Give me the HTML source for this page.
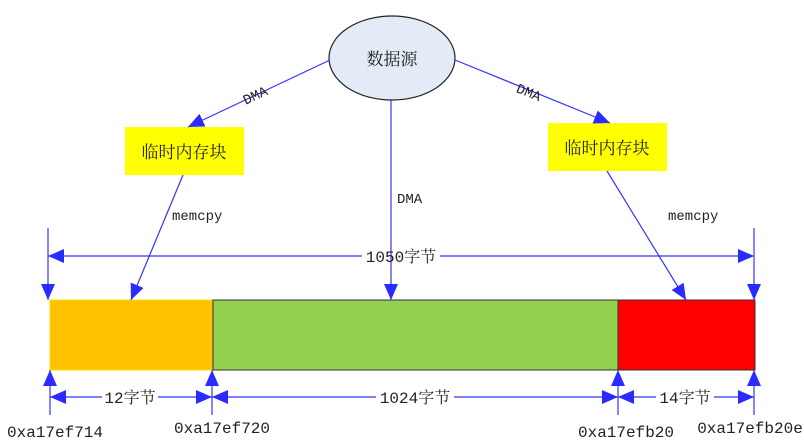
<!DOCTYPE html>
<html><head><meta charset="utf-8"><style>
html,body{margin:0;padding:0;background:#fff;}
svg{display:block;}
text{font-family:"Liberation Mono","Noto Serif CJK SC",monospace;fill:#222;}
</style></head><body>
<svg width="804" height="446" viewBox="0 0 804 446" xmlns="http://www.w3.org/2000/svg">
<defs>
<marker id="a" viewBox="0 0 16 14" refX="16" refY="7" markerWidth="16" markerHeight="14" markerUnits="userSpaceOnUse" orient="auto">
<path d="M0,0 L16,7 L0,14 Z" fill="#2b2bff"/></marker>
</defs>
<ellipse cx="392" cy="58" rx="63" ry="42" fill="#e3ebf6" stroke="#222" stroke-width="1.2"/>
<text x="392" y="65" font-size="17" text-anchor="middle" style="font-family:'Noto Serif CJK SC',serif">数据源</text>
<rect x="125" y="127" width="119" height="48" fill="#ffff00"/>
<text x="184" y="158" font-size="17" text-anchor="middle" style="font-family:'Noto Serif CJK SC',serif">临时内存块</text>
<rect x="548" y="123" width="119" height="48" fill="#ffff00"/>
<text x="607" y="154" font-size="17" text-anchor="middle" style="font-family:'Noto Serif CJK SC',serif">临时内存块</text>
<rect x="50" y="300" width="163" height="70" fill="#ffc000" stroke="#ffe000" stroke-width="1"/>
<rect x="213" y="300" width="405" height="70" fill="#92d050" stroke="#333" stroke-width="1"/>
<rect x="618" y="300" width="137" height="70" fill="#ff0000" stroke="#333" stroke-width="1"/>
<g stroke="#3333ff" stroke-width="1.2" fill="none">
<line x1="330" y1="60" x2="188" y2="127" marker-end="url(#a)"/>
<line x1="455" y1="60" x2="610" y2="123" marker-end="url(#a)"/>
<line x1="391" y1="100" x2="391" y2="300" marker-end="url(#a)"/>
<line x1="183" y1="175" x2="131" y2="300" marker-end="url(#a)"/>
<line x1="607" y1="171" x2="686" y2="300" marker-end="url(#a)"/>
<line x1="48" y1="228" x2="48" y2="300" marker-end="url(#a)"/>
<line x1="754" y1="228" x2="754" y2="300" marker-end="url(#a)"/>
<line x1="362" y1="256" x2="48" y2="256" marker-end="url(#a)"/>
<line x1="440" y1="256" x2="754" y2="256" marker-end="url(#a)"/>
<line x1="50" y1="415" x2="50" y2="370" marker-end="url(#a)"/>
<line x1="212" y1="415" x2="212" y2="370" marker-end="url(#a)"/>
<line x1="618" y1="415" x2="618" y2="370" marker-end="url(#a)"/>
<line x1="754" y1="415" x2="754" y2="370" marker-end="url(#a)"/>
<line x1="102" y1="397" x2="50" y2="397" marker-end="url(#a)"/>
<line x1="158" y1="397" x2="212" y2="397" marker-end="url(#a)"/>
<line x1="376" y1="397" x2="212" y2="397" marker-end="url(#a)"/>
<line x1="454" y1="397" x2="618" y2="397" marker-end="url(#a)"/>
<line x1="656" y1="397" x2="618" y2="397" marker-end="url(#a)"/>
<line x1="714" y1="397" x2="754" y2="397" marker-end="url(#a)"/>
</g>
<text x="255" y="100" font-size="14" text-anchor="middle" transform="rotate(-25 255 95)">DMA</text>
<text x="529" y="97" font-size="14" text-anchor="middle" transform="rotate(22 529 92)">DMA</text>
<text x="397" y="203" font-size="14">DMA</text>
<text x="172" y="220" font-size="14">memcpy</text>
<text x="668" y="220" font-size="14">memcpy</text>
<text x="401" y="262" font-size="16" text-anchor="middle">1050字节</text>
<text x="130" y="403" font-size="16" text-anchor="middle">12字节</text>
<text x="415" y="403" font-size="16" text-anchor="middle">1024字节</text>
<text x="685" y="403" font-size="16" text-anchor="middle">14字节</text>
<text x="55" y="437" font-size="16" text-anchor="middle">0xa17ef714</text>
<text x="222" y="433" font-size="16" text-anchor="middle">0xa17ef720</text>
<text x="626" y="437" font-size="16" text-anchor="middle">0xa17efb20</text>
<text x="750" y="433" font-size="16" text-anchor="middle">0xa17efb20e</text>
</svg>
</body></html>
